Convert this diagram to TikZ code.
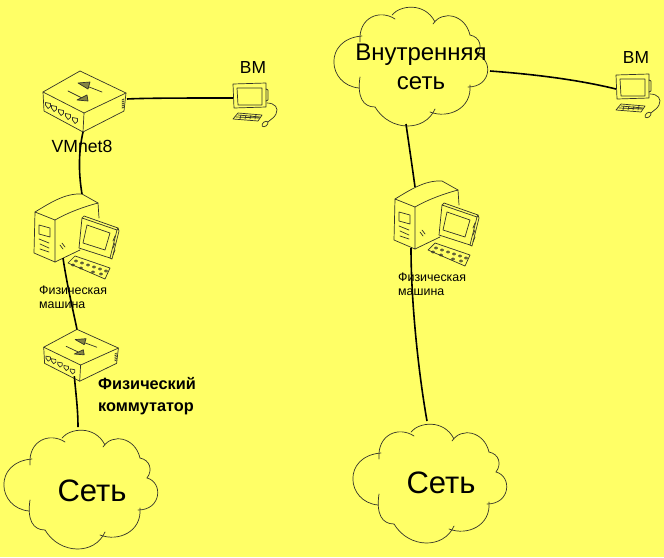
\documentclass[tikz,border=0pt]{standalone}
\usepackage{fontspec}
\setmainfont{Liberation Sans}
\usepackage{xcolor}
\usepackage{tikz}
\definecolor{paper}{HTML}{FFFF66}
\definecolor{pencil}{HTML}{33332A}

\begin{document}
\begin{tikzpicture}[
    x=1pt,
    y=-1pt,
    sketch/.style={
        draw=pencil,
        line width=0.7pt,
        line join=round,
        line cap=round
    },
    line/.style={
        draw=black,
        line width=1.6pt
    },
    label/.style={
        inner sep=0pt,
        align=center,
        text=black
    },
    small/.style={
        label,
        align=left,
        font=\fontsize{12.4}{13.5}\selectfont
    },
    % Hub with two arrows on its lid
    pics/switchbox/.style={code={
        \draw [sketch] (0,-29) -- (-37,-8) -- (4,13) -- (46,-7) -- cycle;
        \draw [sketch] (-37,-8) -- (-36,11) -- (3,32) -- (44,11) -- (46,-7);
        \draw [sketch] (4,13) -- (3,32);
        \draw [sketch] (22,-8) -- (4,-15);
        \draw [sketch, fill=pencil!60!paper] (-2,-17) -- (10,-18) -- (8,-11) -- cycle;
        \draw [sketch] (-12,-9) -- (2,-2);
        \draw [sketch, fill=pencil!60!paper] (-3,0) -- (7,-5) -- (8,1) -- cycle;
        \foreach \px/\py in {-32/5, -26/8, -19/12, -12/16, -5/20} {
            \draw [sketch] (\px-2.5,\py-2.5) -- (\px+2.5,\py-1.5) -- (\px+2.5,\py+1.5) -- (\px,\py+3.5) -- (\px-2.5,\py) -- cycle;
        }
        \foreach \py in {0,2,4,6,8} {
            \draw [sketch] (42,\py) -- (44,\py-1);
        }
        \coordinate (-north) at (0,-29);
        \coordinate (-south) at (3,32);
        \coordinate (-east) at (47,-1);
        \coordinate (-port) at (-3,26);
    }},
    % Desktop box, monitor and keyboard
    pics/desktop/.style={code={
        \draw [sketch] (0,0) -- (20,8) -- (20,50) -- (-1,41) -- cycle;
        \draw [sketch] (0,0) .. controls (15,-9) and (30,-19) .. (47,-18) -- (63,-9);
        \draw [sketch] (20,8) .. controls (32,1) and (48,-5) .. (63,-9) -- (64,6);
        \draw [sketch] (20,50) -- (45,38);
        \draw [sketch] (4,13) -- (15,16) -- (15,25) -- (4,22) -- cycle;
        \draw [sketch] (4,27) -- (14,31) (5,32) -- (14,36) (5,37) -- (14,40);
        \draw [sketch] (25,33) -- (28,37) (27,31) -- (30,35);
        \draw [sketch] (47,6) -- (82,18) -- (75,46) -- (44,36) -- cycle;
        \draw [sketch] (52,13) -- (75,21) -- (70,38) -- (48,31) -- cycle;
        \draw [sketch] (47,6) -- (49,4) -- (83,16) -- (82,18);
        \draw [sketch] (83,16) -- (84,19) -- (77,47) -- (75,46);
        \foreach \py in {24,31,38} {
            \draw [sketch] (80,\py) -- (78,\py+5);
        }
        \draw [sketch] (33,51) -- (40,44) -- (75,56) -- (70,67) -- cycle;
        \foreach \kx/\ky in {41/49, 47/51, 53/53, 59/55, 65/57, 71/59, 38/53, 46/56, 58/60, 66/62} {
            \draw [sketch] (\kx,\ky) circle [x radius=1.6pt, y radius=1.1pt];
        }
        \coordinate (-north) at (47,-18);
        \coordinate (-ridge) at (20,-12);
        \coordinate (-base) at (28,46);
        \coordinate (-foot) at (16,49);
    }},
    % Small workstation with mouse
    pics/station/.style={code={
        \draw [sketch] (0,0) -- (33,-1) -- (33,23) -- (1,24) -- cycle;
        \draw [sketch] (4,4) -- (29,4) -- (29,21) -- (5,21) -- cycle;
        \draw [sketch] (33,5) -- (35,6) -- (35,16) -- (33,17);
        \draw [sketch] (0,35) -- (5,29) -- (29,31) -- (25,37) -- cycle;
        \draw [sketch] (3,33) -- (26,34) (5,31) -- (27,33);
        \foreach \kx in {8,13,18,23} {
            \draw [sketch] (\kx,31) -- (\kx-1,35);
        }
        \draw [sketch] (34,19) .. controls (42,19) and (46,24) .. (43,30) .. controls (41,34) and (38,35) .. (35,38);
        \draw [sketch, rotate around={40:(32,40)}] (32,40) ellipse [x radius=3.5pt, y radius=2.2pt];
        \coordinate (-west) at (0,14);
    }},
    % Cloud built from separate lobes
    pics/cloud/.style={code={
        \draw [sketch] (-51,21) .. controls (-83,18) and (-87,-28) .. (-48,-31);
        \draw [sketch] (-50,-25) .. controls (-52,-50) and (-30,-58) .. (-15,-48);
        \draw [sketch] (-18,-52) .. controls (-10,-62) and (15,-65) .. (25,-45);
        \draw [sketch] (23,-43) .. controls (32,-57) and (55,-53) .. (60,-32);
        \draw [sketch] (60,-32) .. controls (70,-30) and (73,-20) .. (67,-12);
        \draw [sketch] (67,-12) .. controls (83,-8) and (82,20) .. (58,20);
        \draw [sketch] (60,18) .. controls (62,42) and (38,52) .. (20,45);
        \draw [sketch] (25,42) .. controls (15,65) and (-20,65) .. (-35,40);
        \draw [sketch] (-35,40) .. controls (-47,40) and (-53,30) .. (-50,10);
        \coordinate (-north) at (-2,-63);
        \coordinate (-east) at (80,4);
        \coordinate (-south) at (-4,57);
    }}
]

\fill [paper] (0,0) rectangle (664,557);
\useasboundingbox (0,0) rectangle (664,557);

% Left network
\pic (vmnet) at (80,100) {switchbox};
\pic (vmleft) at (233,84) {station};
\pic (hostleft) at (35,212) {desktop};
\pic [xscale=.9, yscale=.85] (phys) at (77,354) {switchbox};
\pic (netleft) at (80,490) {cloud};

% Right network
\pic (inner) at (410,67) {cloud};
\pic (vmright) at (616,75) {station};
\pic (hostright) at (395,199) {desktop};
\pic (netright) at (429,484) {cloud};

% Links
\draw [line] (vmnet-east) .. controls (145,98) and (190,98) .. (vmleft-west);
\draw [line] (vmnet-south) .. controls (79,150) and (78,170) .. (hostleft-north);
\draw [line] (hostleft-base) .. controls (67,285) and (73,310) .. (phys-north);
\draw [line] (phys-port) .. controls (76,395) and (78,410) .. (netleft-north);
\draw [line] (inner-east) .. controls (530,74) and (575,79) .. (vmright-west);
\draw [line] (inner-south) .. controls (409,145) and (412,165) .. (hostright-ridge);
\draw [line] (hostright-foot) .. controls (411,300) and (418,370) .. (netright-north);

% Labels
\node [label, font=\fontsize{17.4}{20}\selectfont] (vmlefttext) at (253,68) {ВМ};
\node [label, font=\fontsize{17.6}{20}\selectfont] (vmnettext) at (82,146) {VMnet8};
\node [small, anchor=north west] (hostlefttext) at (39,286) {Физическая\\машина};
\node [label, align=left, anchor=west, font=\fontsize{16.3}{21.5}\bfseries\selectfont] (phystext) at (98,396) {Физический\\коммутатор};
\node [label, font=\fontsize{31}{34}\selectfont] (netlefttext) at (92,491) {Сеть};

\node [label, font=\fontsize{24}{29}\selectfont] (innertext) at (421,67) {Внутренняя\\сеть};
\node [label, font=\fontsize{17.4}{20}\selectfont] (vmrighttext) at (636,58) {ВМ};
\node [small, anchor=north west] (hostrighttext) at (398,273) {Физическая\\машина};
\node [label, font=\fontsize{31}{34}\selectfont] (netrighttext) at (441,483) {Сеть};

\end{tikzpicture}
\end{document}
